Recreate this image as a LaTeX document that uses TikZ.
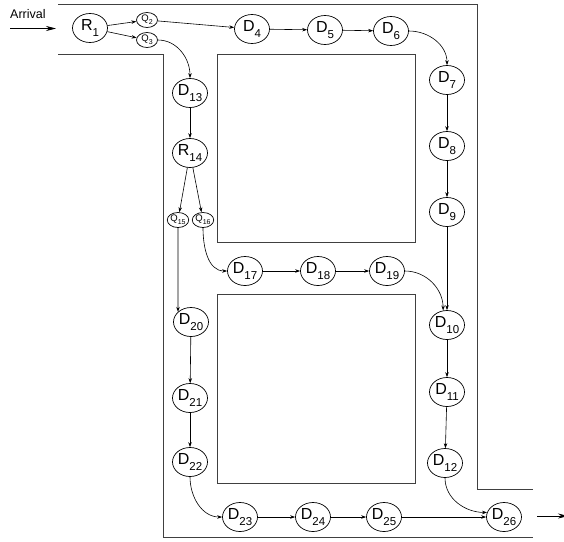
\documentclass[tikz,border=0pt]{standalone}
\usepackage{fontspec}
\setmainfont{Liberation Sans}
\usetikzlibrary{shapes.geometric,arrows.meta}
\newcommand{\lsub}[1]{\raisebox{-0.38em}{\fontsize{11.5}{11.5}\selectfont #1}}
\newcommand{\ssub}[1]{\raisebox{-0.35em}{\fontsize{7}{7}\selectfont #1}}
\begin{document}
\begin{tikzpicture}[x=1pt,y=-1pt,
  big/.style={draw, ellipse, line width=0.7pt, minimum width=35pt, minimum height=29pt, inner sep=0pt, font=\fontsize{16}{16}\selectfont},
  small/.style={draw, ellipse, line width=0.7pt, minimum width=21pt, minimum height=15pt, inner sep=0pt, font=\fontsize{9.5}{9.5}\selectfont},
  wall/.style={draw=black!75, line width=0.9pt},
  flow/.style={draw, line width=0.6pt, -{Stealth[length=5pt,width=3.5pt]}},
  bigflow/.style={draw, line width=0.7pt, -{Stealth[length=10pt,width=5pt]}}]
\useasboundingbox (0,0) rectangle (564,541);
% walls
\draw[wall] (58,4) -- (477,4) -- (477,489) -- (533,489);
\draw[wall] (58,54) -- (163,54) -- (163,537) -- (533,537);
\draw[wall] (217,54) rectangle (415,242);
\draw[wall] (217,294) rectangle (415,483);
% arrival / exit
\node[anchor=south west, inner sep=0pt, font=\fontsize{12.5}{12.5}\selectfont] (arr) at (10,18.5) {Arrival};
\coordinate (a0) at (10,28.5);
\coordinate (a1) at (56,28.5);
\draw[bigflow] (a0) -- (a1);
\coordinate (e0) at (537,516);
\coordinate (e1) at (568,516);
\draw[bigflow] (e0) -- (e1);
% nodes
\node[big] (R1) at (90,28) {R\lsub{1}};
\node[small] (Q2) at (147,20) {Q\ssub{2}};
\node[small] (Q3) at (147,40) {Q\ssub{3}};
\node[big] (D4) at (252,29) {D\lsub{4}};
\node[big] (D5) at (325,30) {D\lsub{5}};
\node[big] (D6) at (391,31) {D\lsub{6}};
\node[big] (D7) at (447,80) {D\lsub{7}};
\node[big] (D8) at (447,146) {D\lsub{8}};
\node[big] (D9) at (447,212) {D\lsub{9}};
\node[big] (D10) at (447,325) {D\lsub{10}};
\node[big] (D11) at (447,392) {D\lsub{11}};
\node[big] (D12) at (445,463) {D\lsub{12}};
\node[big] (D13) at (190,93) {D\lsub{13}};
\node[big] (R14) at (190,153) {R\lsub{14}};
\node[small] (Q15) at (178,220) {Q\ssub{15}};
\node[small] (Q16) at (203,220) {Q\ssub{16}};
\node[big] (D17) at (245,271) {D\lsub{17}};
\node[big] (D18) at (318,271) {D\lsub{18}};
\node[big] (D19) at (387,271) {D\lsub{19}};
\node[big] (D20) at (191,322) {D\lsub{20}};
\node[big] (D21) at (190,398) {D\lsub{21}};
\node[big] (D22) at (190,462) {D\lsub{22}};
\node[big] (D23) at (240,517) {D\lsub{23}};
\node[big] (D24) at (313,517) {D\lsub{24}};
\node[big] (D25) at (384,517) {D\lsub{25}};
\node[big] (D26) at (504,517) {D\lsub{26}};
% connectors
\draw[flow] (R1) -- (Q2);
\draw[flow] (R1) -- (Q3);
\draw[flow] (Q2) -- (D4);
\draw[flow] (Q3.east) to[out=0,in=90] (D13.north);
\draw[flow] (D4) -- (D5);
\draw[flow] (D5) -- (D6);
\draw[flow] (D6.east) to[out=0,in=90] (D7.north);
\draw[flow] (D7) -- (D8);
\draw[flow] (D8) -- (D9);
\draw[flow] (D9) -- (D10);
\draw[flow] (D10) -- (D11);
\draw[flow] (D11) -- (D12);
\draw[flow] (D12.south) to[out=-90,in=180] (D26.165);
\draw[flow] (D13) -- (R14);
\draw[flow] (R14) -- (Q15);
\draw[flow] (R14) -- (Q16);
\draw[flow] (Q15.south) -- (D20.142);
\draw[flow] (Q16.south) to[out=-90,in=180] (D17.west);
\draw[flow] (D17) -- (D18);
\draw[flow] (D18) -- (D19);
\draw[flow] (D19.east) to[out=0,in=90] (D10.105);
\draw[flow] (D20) -- (D21);
\draw[flow] (D21) -- (D22);
\draw[flow] (D22.south) to[out=-90,in=180] (D23.west);
\draw[flow] (D23) -- (D24);
\draw[flow] (D24) -- (D25);
\draw[flow] (D25) -- (D26);
\end{tikzpicture}
\end{document}
